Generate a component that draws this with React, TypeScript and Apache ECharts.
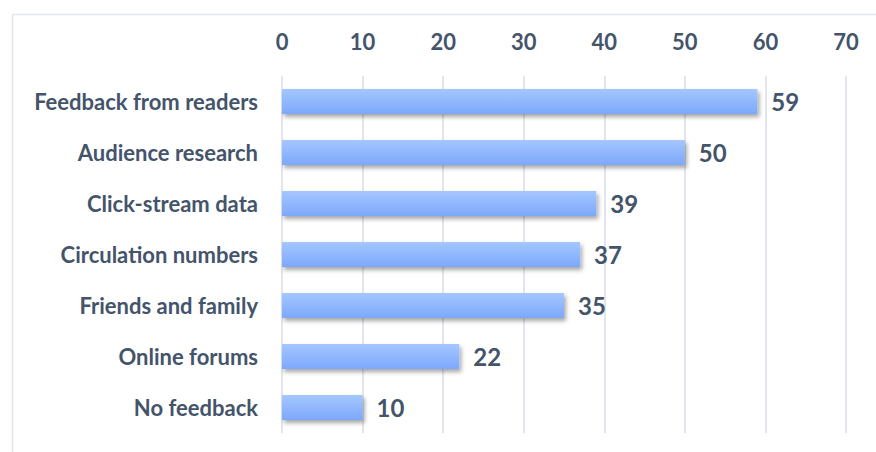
import React, { useEffect, useRef } from "react";
import * as echarts from "echarts";

const categories = [
  "Feedback from readers",
  "Audience research",
  "Click-stream data",
  "Circulation numbers",
  "Friends and family",
  "Online forums",
  "No feedback",
];
const values = [59, 50, 39, 37, 35, 22, 10];
const axisMin = 0;
const axisMax = 70;
const axisInterval = 10;

const textColor = "#44546a";
const fontFamily = "Lato, 'Open Sans', sans-serif";

export default function App() {
  const ref = useRef<HTMLDivElement>(null);
  useEffect(() => {
    document.body.style.margin = "0";
    const chart = echarts.init(ref.current!, null, { renderer: "svg" });
    chart.setOption({
      animation: false,
      backgroundColor: "#ffffff",
      textStyle: { fontFamily },
      grid: { left: 282, right: 30, top: 76, bottom: 19, containLabel: false },
      graphic: [
        {
          type: "line",
          shape: { x1: 12.5, y1: 14.5, x2: 876, y2: 14.5 },
          style: { stroke: "#e3e7ec", lineWidth: 1.5 },
        },
        {
          type: "line",
          shape: { x1: 12.5, y1: 14.5, x2: 12.5, y2: 452 },
          style: { stroke: "#e3e7ec", lineWidth: 1.5 },
        },
      ],
      xAxis: {
        type: "value",
        position: "top",
        min: axisMin,
        max: axisMax,
        interval: axisInterval,
        axisLine: { show: false },
        axisTick: { show: false },
        axisLabel: {
          margin: 24,
          color: textColor,
          fontWeight: "bold",
          fontSize: 22,
          fontFamily,
        },
        splitLine: { show: true, lineStyle: { color: "#e1e6ee", width: 2 } },
      },
      yAxis: {
        type: "category",
        data: categories,
        inverse: true,
        axisLine: { show: false },
        axisTick: { show: false },
        axisLabel: {
          margin: 24,
          color: textColor,
          fontWeight: "bold",
          fontSize: 22,
          fontFamily,
          padding: [0, 0, 3, 0],
        },
        splitLine: { show: false },
      },
      series: [
        {
          type: "bar",
          data: values,
          barWidth: 25,
          itemStyle: {
            color: new echarts.graphic.LinearGradient(0, 0, 0, 1, [
              { offset: 0, color: "#a4c7ff" },
              { offset: 1, color: "#7da8fb" },
            ]),
            shadowColor: "rgba(0,0,0,0.35)",
            shadowBlur: 4,
            shadowOffsetX: 2,
            shadowOffsetY: 3,
          },
          label: {
            show: true,
            position: "right",
            distance: 14,
            color: textColor,
            fontWeight: "bold",
            fontSize: 24,
            fontFamily,
          },
        },
      ],
    });
    return () => chart.dispose();
  }, []);
  return (
    <div
      ref={ref}
      style={{ position: "fixed", left: 0, top: 0, width: 876, height: 452 }}
    />
  );
}
